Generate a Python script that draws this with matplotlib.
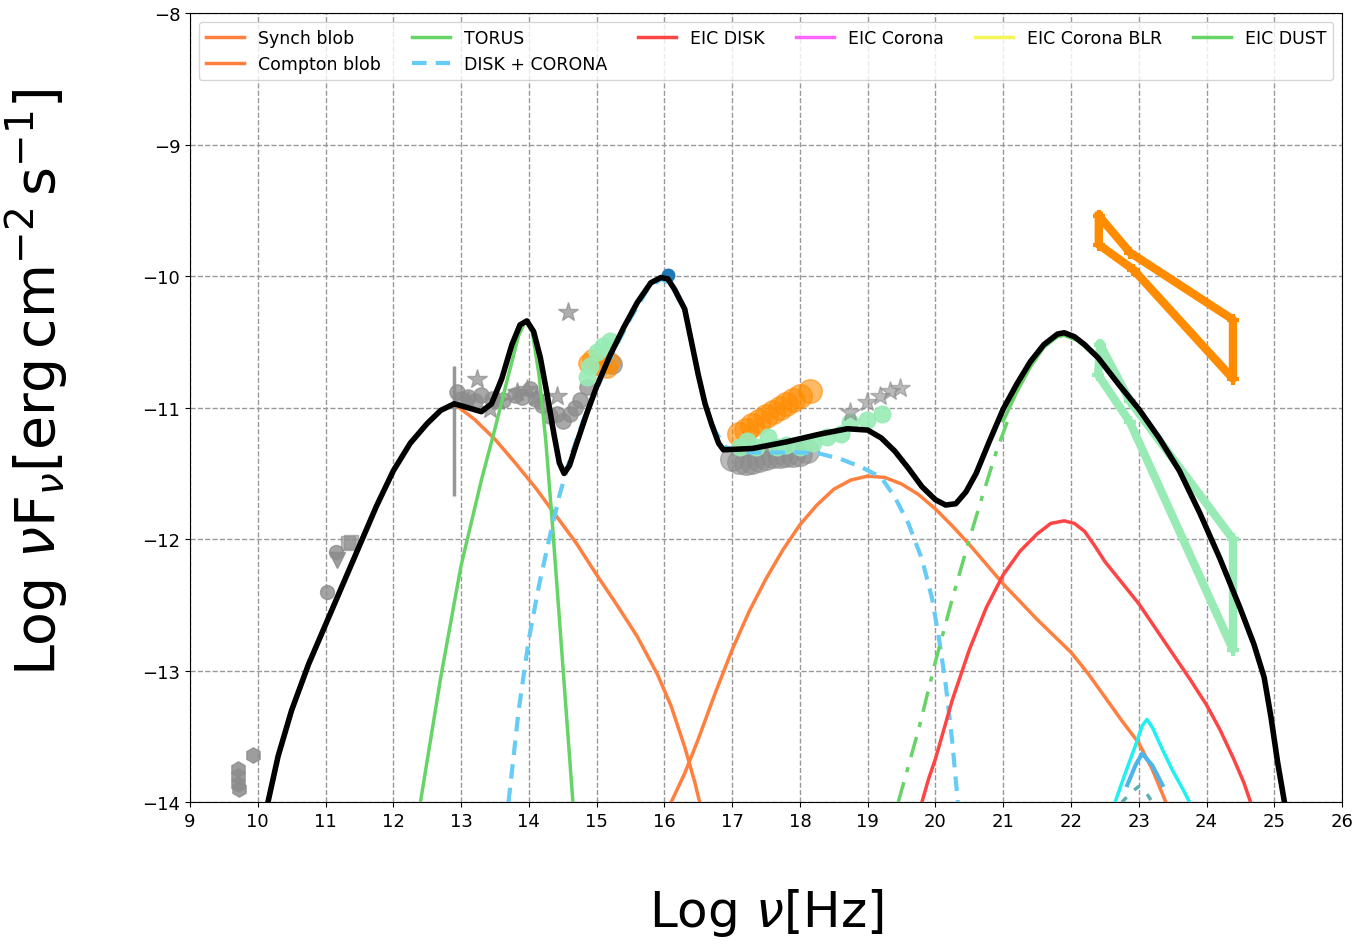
import numpy as np
import matplotlib
matplotlib.use("Agg")
import matplotlib.pyplot as plt

# ---------------- model curves (log nu, log nuFnu) ----------------
total_x = [10.15, 10.3, 10.5, 10.75, 11.0, 11.25, 11.5, 11.75, 12.0, 12.25, 12.5, 12.7, 12.9,
           13.1, 13.3, 13.45, 13.6, 13.75, 13.87, 13.97, 14.07, 14.17, 14.27, 14.37, 14.45,
           14.52, 14.6, 14.7, 14.85, 15.0, 15.2, 15.4, 15.6, 15.8, 15.95, 16.05, 16.15, 16.3,
           16.4, 16.5, 16.6, 16.7, 16.8, 16.87, 17.3, 17.8, 18.3, 18.7, 19.0, 19.2, 19.4,
           19.6, 19.8, 20.0, 20.15, 20.3, 20.45, 20.6, 20.8, 21.0, 21.2, 21.4, 21.6, 21.8,
           21.9, 22.05, 22.2, 22.4, 22.7, 23.0, 23.3, 23.6, 23.9, 24.2, 24.5, 24.7, 24.85,
           24.95, 25.05, 25.15]
total_y = [-14.0, -13.65, -13.3, -12.95, -12.65, -12.35, -12.05, -11.75, -11.48, -11.27,
           -11.12, -11.02, -10.97, -11.0, -11.03, -10.97, -10.78, -10.52, -10.37, -10.34,
           -10.42, -10.62, -10.9, -11.2, -11.42, -11.5, -11.44, -11.28, -11.05, -10.84,
           -10.6, -10.39, -10.2, -10.05, -10.01, -10.02, -10.1, -10.25, -10.5, -10.75,
           -10.97, -11.13, -11.27, -11.32, -11.31, -11.26, -11.2, -11.16, -11.17, -11.23,
           -11.33, -11.46, -11.6, -11.7, -11.74, -11.73, -11.64, -11.5, -11.25, -11.01,
           -10.82, -10.65, -10.52, -10.44, -10.43, -10.46, -10.52, -10.62, -10.82, -11.01,
           -11.23, -11.48, -11.8, -12.15, -12.53, -12.8, -13.05, -13.35, -13.7, -14.0]

synch_x = [12.9, 13.2, 13.5, 13.8, 14.1, 14.4, 14.7, 15.0, 15.3, 15.6, 15.9, 16.1, 16.3,
           16.45, 16.52]
synch_y = [-10.97, -11.09, -11.24, -11.42, -11.61, -11.82, -12.03, -12.27, -12.5, -12.74,
           -13.03, -13.27, -13.58, -13.85, -14.0]

compton_x = [16.1, 16.3, 16.5, 16.75, 17.0, 17.25, 17.5, 17.75, 18.0, 18.25, 18.5, 18.75,
             19.0, 19.25, 19.5, 19.75, 20.0, 20.25, 20.5, 21.0, 21.5, 22.0, 22.25, 22.5,
             22.75, 23.0, 23.2, 23.4]
compton_y = [-14.0, -13.78, -13.52, -13.17, -12.84, -12.55, -12.3, -12.08, -11.89, -11.74,
             -11.62, -11.55, -11.52, -11.53, -11.58, -11.66, -11.77, -11.9, -12.04, -12.34,
             -12.61, -12.86, -13.02, -13.2, -13.38, -13.55, -13.75, -14.0]

torus_x = [12.4, 12.7, 13.0, 13.3, 13.5, 13.7, 13.85, 13.95, 14.05, 14.15, 14.25, 14.35,
           14.45, 14.55, 14.65]
torus_y = [-14.0, -13.05, -12.2, -11.55, -11.16, -10.75, -10.45, -10.34, -10.42, -10.75,
           -11.25, -11.9, -12.6, -13.3, -14.0]

disk_x = [13.7, 13.85, 14.0, 14.15, 14.3, 14.45, 14.6, 14.8, 15.0, 15.25, 15.5, 15.75,
          15.95, 16.1, 16.3, 16.45, 16.6, 16.75, 16.9, 17.2, 17.6, 18.0, 18.3, 18.6, 18.9,
          19.2, 19.4, 19.6, 19.8, 19.95, 20.05, 20.15, 20.25, 20.33]
disk_y = [-14.0, -13.3, -12.76, -12.35, -12.0, -11.67, -11.4, -11.1, -10.86, -10.57,
          -10.32, -10.1, -10.02, -10.06, -10.27, -10.62, -10.97, -11.18, -11.3, -11.34,
          -11.34, -11.34, -11.35, -11.39, -11.45, -11.53, -11.68, -11.88, -12.15, -12.45,
          -12.75, -13.1, -13.55, -14.0]

eicdisk_x = [19.8, 19.9, 20.0, 20.25, 20.5, 20.75, 21.0, 21.25, 21.5, 21.7, 21.9, 22.05,
             22.2, 22.35, 22.5, 22.75, 23.0, 23.25, 23.5, 23.75, 24.0, 24.2, 24.4, 24.55,
             24.65]
eicdisk_y = [-14.0, -13.82, -13.67, -13.22, -12.84, -12.52, -12.27, -12.09, -11.96, -11.88,
             -11.86, -11.88, -11.94, -12.05, -12.17, -12.33, -12.49, -12.68, -12.87, -13.06,
             -13.26, -13.45, -13.67, -13.85, -14.0]

eicdust_x = [21.0, 21.2, 21.4, 21.6, 21.8, 21.9, 22.1, 22.3]
eicdust_y = [-11.1, -10.88, -10.69, -10.54, -10.46, -10.45, -10.49, -10.58]

dashdot_x = [19.45, 19.75, 20.0, 20.25, 20.5, 20.7, 20.9, 21.1]
dashdot_y = [-14.0, -13.45, -12.93, -12.45, -12.0, -11.66, -11.33, -11.05]

cyan_x = [22.65, 22.8, 22.95, 23.05, 23.12, 23.2, 23.35, 23.5, 23.65, 23.75]
cyan_y = [-14.0, -13.78, -13.57, -13.42, -13.37, -13.43, -13.6, -13.76, -13.9, -14.0]
blue_x = [22.83, 22.95, 23.05, 23.2, 23.35]
blue_y = [-13.87, -13.72, -13.63, -13.72, -13.87]
teal_x = [22.75, 22.9, 23.0, 23.1, 23.2]
teal_y = [-14.0, -13.92, -13.88, -13.92, -14.0]

# ---------------- data points ----------------
radio_hex_x = [9.71, 9.71, 9.71, 9.72, 9.93]
radio_hex_y = [-13.75, -13.8, -13.86, -13.9, -13.64]
ir_circ_x = [11.02, 11.15]
ir_circ_y = [-12.40, -12.10]
ir_tri_x = [11.17]
ir_tri_y = [-12.16]
ir_sq_x = [11.33, 11.38]
ir_sq_y = [-12.03, -12.02]

errbar_x = [12.9]
errbar_y = [-11.0]
errbar_err = [[0.67], [0.32]]

band_x = [12.94, 13.0, 13.1, 13.2, 13.3, 13.45, 13.62, 13.8, 13.9, 14.02, 14.1, 14.2, 14.31,
          14.42, 14.5, 14.6, 14.68, 14.76, 14.86]
band_y = [-10.88, -10.93, -10.92, -10.95, -10.9, -10.93, -10.94, -10.9, -10.92, -10.86,
          -10.93, -10.98, -11.06, -11.05, -11.1, -11.05, -11.0, -10.94, -10.84]
star_x = [13.1, 13.24, 13.43, 13.55, 13.82, 13.98, 14.1, 14.42, 14.58]
star_y = [-10.95, -10.78, -11.01, -10.95, -10.88, -10.86, -10.92, -10.91, -10.27]

uv_orange_x = [14.88, 14.93, 15.05, 15.15, 15.2]
uv_orange_y = [-10.66, -10.63, -10.68, -10.7, -10.65]
uv_green_x = [14.86, 14.9, 15.0, 15.1, 15.2]
uv_green_y = [-10.77, -10.68, -10.58, -10.53, -10.49]
uv_gray_x = [15.22]
uv_gray_y = [-10.67]

blue_pt_x = [16.05]
blue_pt_y = [-9.99]

xr_orange_x = [17.1, 17.2, 17.3, 17.4, 17.5, 17.6, 17.7, 17.8, 17.9, 18.0, 18.15]
xr_orange_y = [-11.2, -11.17, -11.13, -11.1, -11.06, -11.03, -11.0, -10.97, -10.94, -10.91,
               -10.87]
xr_gray_x = [17.0, 17.1, 17.2, 17.3, 17.4, 17.5, 17.6, 17.7, 17.8, 17.9, 18.0, 18.1]
xr_gray_y = [-11.39, -11.41, -11.42, -11.41, -11.4, -11.38, -11.37, -11.37, -11.36, -11.36,
             -11.35, -11.33]
xr_green_x = [17.12, 17.22, 17.35, 17.53, 17.66, 17.8, 18.0, 18.2, 18.4, 18.6, 18.74, 18.99,
              19.21]
xr_green_y = [-11.3, -11.25, -11.3, -11.22, -11.3, -11.28, -11.3, -11.27, -11.22, -11.2,
              -11.11, -11.09, -11.05]
xr_star_x = [18.74, 18.99, 19.18, 19.33, 19.48]
xr_star_y = [-11.03, -10.96, -10.91, -10.87, -10.85]

# bowties
bow_orange_x = [22.41, 22.87, 24.39, 24.39, 22.92, 22.41, 22.41]
bow_orange_y = [-9.54, -9.82, -10.33, -10.78, -9.95, -9.76, -9.54]
bow_green_x = [22.43, 22.87, 24.39, 24.39, 22.87, 22.40, 22.43]
bow_green_y = [-10.52, -10.95, -12.0, -12.84, -11.11, -10.75, -10.52]

# ---------------- plotting ----------------
fig = plt.figure(figsize=(13.61, 9.45), dpi=100)
ax = fig.add_axes([0.1396, 0.150, 0.8465, 0.835])

grey = '#8c8c8c'
ax.errorbar(errbar_x, errbar_y, yerr=errbar_err, fmt='none', ecolor=grey, elinewidth=2.5,
            alpha=0.9, zorder=3)
ax.plot(radio_hex_x, radio_hex_y, 'h', color=grey, ms=11, alpha=0.85, ls='none', zorder=3)
ax.plot(ir_circ_x, ir_circ_y, 'o', color=grey, ms=10, alpha=0.8, ls='none', zorder=3)
ax.plot(ir_tri_x, ir_tri_y, 'v', color=grey, ms=11, alpha=0.85, ls='none', zorder=3)
ax.plot(ir_sq_x, ir_sq_y, 's', color=grey, ms=10, alpha=0.6, ls='none', zorder=3)
ax.plot(band_x, band_y, 'o', color=grey, ms=11, alpha=0.75, ls='none', zorder=3)
ax.plot(star_x, star_y, '*', color=grey, ms=15, alpha=0.7, ls='none', zorder=3)
ax.plot(uv_gray_x, uv_gray_y, 'o', color=grey, ms=14, alpha=0.7, ls='none', zorder=3)
ax.plot(uv_orange_x, uv_orange_y, 'o', color='#ff8c00', ms=14, alpha=0.6, ls='none', zorder=3)
ax.plot(uv_green_x, uv_green_y, 'o', color='#98ebb5', ms=12, alpha=0.9, ls='none', zorder=3)
ax.plot(blue_pt_x, blue_pt_y, 'o', color='#1f77b4', ms=9, ls='none', zorder=3)
ax.plot(xr_gray_x, xr_gray_y, 'o', color=grey, ms=17, alpha=0.6, ls='none', zorder=3)
ax.plot(xr_orange_x, xr_orange_y, 'o', color='#ff8c00', ms=17, alpha=0.6, ls='none', zorder=3)
ax.plot(xr_green_x, xr_green_y, 'o', color='#98ebb5', ms=12, alpha=0.9, ls='none', zorder=3)
ax.plot(xr_star_x, xr_star_y, '*', color=grey, ms=15, alpha=0.6, ls='none', zorder=3)

ax.plot(bow_orange_x, bow_orange_y, color='#ff8c00', lw=6, marker='+', ms=9, mew=3,
        solid_joinstyle='round', zorder=4)
ax.plot(bow_green_x, bow_green_y, color='#98ebb5', lw=6, marker='+', ms=9, mew=3,
        solid_joinstyle='round', zorder=4)

ax.plot(synch_x, synch_y, color='#ff7f3f', lw=2.5, label='Synch blob', zorder=5)
ax.plot(compton_x, compton_y, color='#ff7f3f', lw=2.5, label='Compton blob', zorder=5)
ax.plot(torus_x, torus_y, color='#66d466', lw=2.5, label='TORUS', zorder=5)
ax.plot(disk_x, disk_y, color='#66ccf5', lw=3, ls=(0, (3.5, 2.2)), label='DISK + CORONA',
        zorder=5)
ax.plot(eicdisk_x, eicdisk_y, color='#ff4444', lw=2.5, label='EIC DISK', zorder=5)
ax.plot([], [], color='#ff66ff', lw=2.5, label='EIC Corona')
ax.plot([], [], color='#f5f55a', lw=2.5, label='EIC Corona BLR')
ax.plot(eicdust_x, eicdust_y, color='#66d466', lw=2.5, label='EIC DUST', zorder=5)
ax.plot(dashdot_x, dashdot_y, color='#66d466', lw=2.5, ls=(0, (6, 3, 1.5, 3)), zorder=5)
ax.plot(cyan_x, cyan_y, color='#22f0f0', lw=2.5, zorder=5)
ax.plot(blue_x, blue_y, color='#4db6e8', lw=3, zorder=5)
ax.plot(teal_x, teal_y, color='#5fb0b0', lw=2.5, ls=(0, (2, 3)), zorder=5)

ax.plot(total_x, total_y, color='black', lw=4, zorder=6, solid_joinstyle='round')

ax.set_xlim(9, 26)
ax.set_ylim(-14, -8)
ax.set_xticks(np.arange(9, 27, 1))
ax.set_yticks(np.arange(-14, -7, 1))
ax.tick_params(labelsize=13)
ax.grid(True, ls='--', color='#999999', lw=1)

ax.set_xlabel(r'$\mathrm{Log}\ \nu[\mathrm{Hz}]$', fontsize=36, labelpad=40)
ax.set_ylabel(r'$\mathrm{Log}\ \nu\mathrm{F}_{\nu}[\mathrm{erg\,cm^{-2}\,s^{-1}}]$',
              fontsize=40)
ax.yaxis.set_label_coords(-0.103, 0.534)

ax.legend(loc='upper left', bbox_to_anchor=(0, 0, 1, 1), mode='expand', ncol=6,
          fontsize=12.5, handlelength=2.2, framealpha=0.8)

fig.savefig('out.png', dpi=100)
